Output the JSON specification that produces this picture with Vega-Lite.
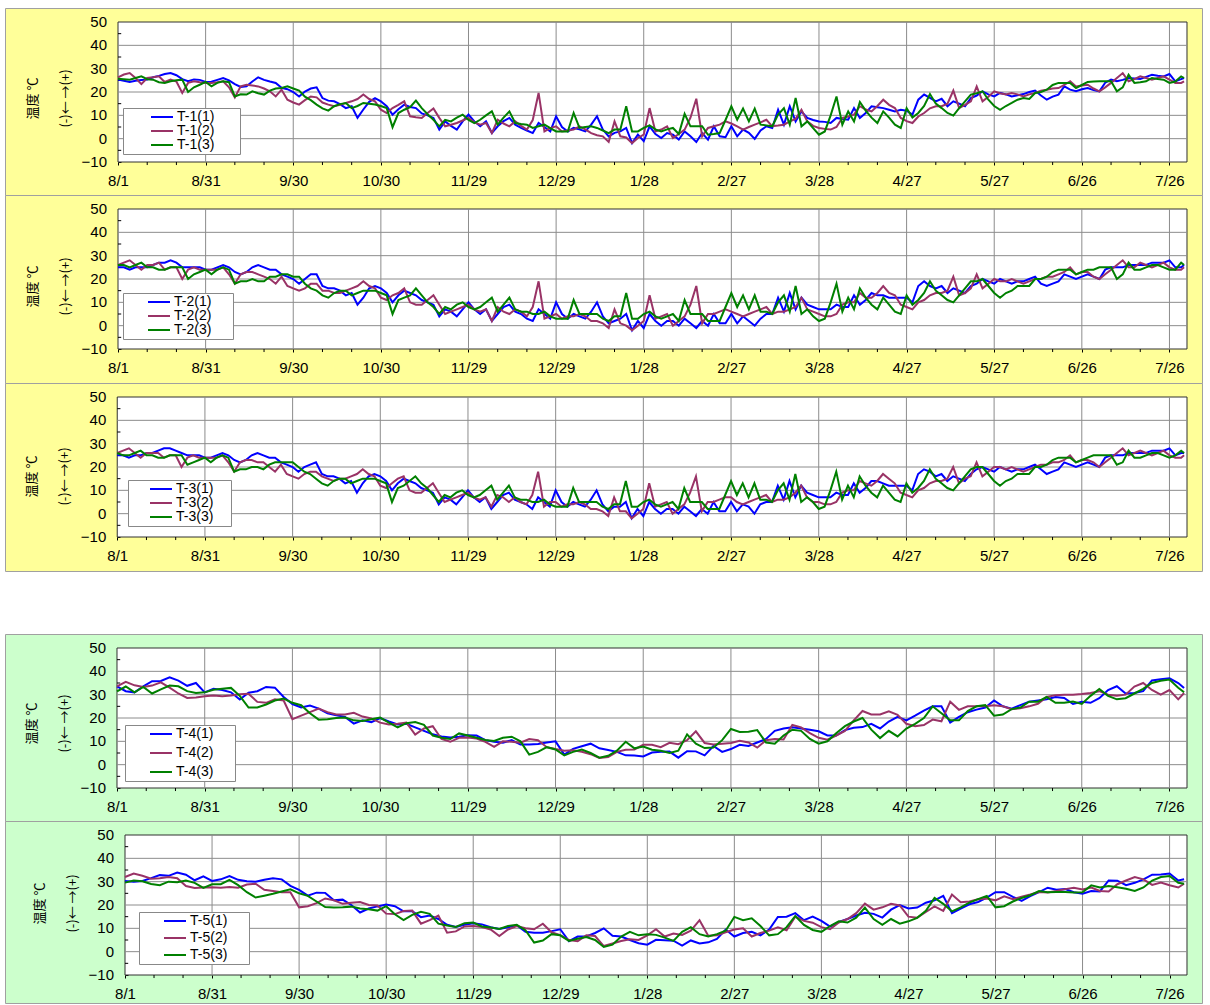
{
"$schema": "https://vega.github.io/schema/vega-lite/v6.json",
"background": "#ffffff",
"padding": {"left": 4, "top": 7, "right": 0, "bottom": 0},
"spacing": 61,
"config": {
 "view": {"stroke": "#a0a0a0"},
 "axis": {"labelFont": "Liberation Sans", "labelFontSize": 15, "labelColor": "#000", "domain": false, "grid": false, "tickColor": "#000", "ticks": true},
 "axisX": {"tickSize": 3, "labelPadding": 8, "labelFlush": false, "labelBound": false},
 "axisY": {"tickSize": -3, "labels": false, "titleFont": "Noto Sans CJK JP", "titleFontSize": 13, "titleFontWeight": "normal", "titleColor": "#000", "titleAngle": 270, "titleAlign": "center", "titleBaseline": "bottom", "titleLineHeight": 33, "titleX": -79},
 "text": {"font": "Liberation Sans", "fontSize": 15, "color": "#000000", "align": "right", "baseline": "middle", "dx": -11},
 "legend": {"orient": "none", "direction": "vertical", "symbolType": "M-2.2,0H2.2", "symbolSize": 100, "symbolStrokeWidth": 2, "symbolOffset": 30, "labelOffset": 8, "labelFont": "Liberation Sans", "labelFontSize": 14, "labelColor": "#000", "padding": 2, "fillColor": "#ffffff", "strokeColor": "#888888", "rowPadding": 0}
},
"datasets": {
 "vg": [{"g":30},{"g":60},{"g":90},{"g":120},{"g":150},{"g":180},{"g":210},{"g":240},{"g":270},{"g":300},{"g":330},{"g":360}],
 "hg": [{"h":0},{"h":10},{"h":20},{"h":30},{"h":40}],
 "yl": [{"q":-10},{"q":0},{"q":10},{"q":20},{"q":30},{"q":40},{"q":50}],
 "mx": [{"t":10},{"t":20},{"t":40},{"t":50},{"t":70},{"t":80},{"t":100},{"t":110},{"t":130},{"t":140},{"t":160},{"t":170},{"t":190},{"t":200},{"t":220},{"t":230},{"t":250},{"t":260},{"t":280},{"t":290},{"t":310},{"t":320},{"t":340},{"t":350}],
 "my": [{"m":-5},{"m":5},{"m":15},{"m":25},{"m":35},{"m":45}],
 "y": [
{"x":0,"a":25.3,"b":26.3,"c":25.7,"d":25,"e":26,"f":26,"g":25,"h":26,"i":26},
{"x":2,"a":24.8,"b":27.5,"c":25.5,"d":25,"e":27,"f":26,"g":25,"h":27,"i":25},
{"x":4,"a":24.3,"b":28.1,"c":25.3,"d":24,"e":28,"f":25,"g":24,"h":28,"i":25},
{"x":6,"a":24.8,"b":26,"c":26,"d":25,"e":26,"f":26,"g":25,"h":26,"i":26},
{"x":8,"a":25.1,"b":23.4,"c":26.7,"d":25,"e":24,"f":27,"g":25,"h":24,"i":27},
{"x":10,"a":25.3,"b":26,"c":25.5,"d":25,"e":26,"f":25,"g":26,"h":26,"i":25},
{"x":12,"a":26.3,"b":26.3,"c":25.3,"d":26,"e":26,"f":25,"g":26,"h":26,"i":25},
{"x":14,"a":26.9,"b":26.7,"c":24.2,"d":27,"e":27,"f":24,"g":27,"h":26,"i":24},
{"x":16,"a":27.7,"b":24.3,"c":23.9,"d":27,"e":24,"f":24,"g":28,"h":24,"i":24},
{"x":18,"a":28.1,"b":25.3,"c":24.6,"d":28,"e":25,"f":25,"g":28,"h":25,"i":25},
{"x":20,"a":27.2,"b":24.5,"c":25,"d":27,"e":25,"f":25,"g":27,"h":25,"i":25},
{"x":22,"a":25.5,"b":19.6,"c":25.3,"d":25,"e":20,"f":25,"g":26,"h":20,"i":25},
{"x":24,"a":24.6,"b":23.9,"c":20,"d":25,"e":24,"f":20,"g":25,"h":24,"i":21},
{"x":26,"a":25.4,"b":24.6,"c":22,"d":25,"e":25,"f":22,"g":25,"h":25,"i":22},
{"x":28,"a":25.2,"b":24.2,"c":23.1,"d":25,"e":24,"f":23,"g":25,"h":24,"i":23},
{"x":30,"a":24.3,"b":23.9,"c":24.3,"d":24,"e":24,"f":24,"g":24,"h":24,"i":24},
{"x":32,"a":24.4,"b":23.9,"c":22.4,"d":24,"e":24,"f":22,"g":24,"h":24,"i":22},
{"x":34,"a":25.2,"b":24.2,"c":23.9,"d":25,"e":24,"f":24,"g":25,"h":24,"i":24},
{"x":36,"a":26,"b":24.6,"c":24.6,"d":26,"e":25,"f":25,"g":26,"h":25,"i":25},
{"x":38,"a":25,"b":22,"c":24.2,"d":25,"e":22,"f":24,"g":25,"h":22,"i":24},
{"x":40,"a":23.4,"b":17.7,"c":18.1,"d":23,"e":18,"f":18,"g":23,"h":18,"i":18},
{"x":42,"a":22.2,"b":22.4,"c":19,"d":22,"e":22,"f":19,"g":22,"h":22,"i":19},
{"x":44,"a":22.5,"b":23.1,"c":18.9,"d":23,"e":23,"f":19,"g":23,"h":23,"i":19},
{"x":46,"a":24.5,"b":22.8,"c":20.3,"d":25,"e":23,"f":20,"g":25,"h":23,"i":20},
{"x":48,"a":26.3,"b":22.4,"c":19.5,"d":26,"e":22,"f":19,"g":26,"h":22,"i":20},
{"x":50,"a":25.2,"b":21.5,"c":18.9,"d":25,"e":21,"f":19,"g":25,"h":22,"i":19},
{"x":52,"a":24.5,"b":20.3,"c":20.6,"d":24,"e":20,"f":21,"g":24,"h":20,"i":21},
{"x":54,"a":23.9,"b":18.1,"c":21.5,"d":24,"e":18,"f":21,"g":24,"h":18,"i":22},
{"x":56,"a":21.8,"b":21,"c":21.7,"d":22,"e":21,"f":22,"g":22,"h":21,"i":22},
{"x":58,"a":21.2,"b":16.7,"c":22.4,"d":21,"e":17,"f":22,"g":21,"h":17,"i":22},
{"x":60,"a":20,"b":15.5,"c":21.5,"d":20,"e":16,"f":21,"g":20,"h":16,"i":22},
{"x":62,"a":18.1,"b":14.6,"c":20.6,"d":18,"e":15,"f":21,"g":18,"h":15,"i":20},
{"x":64,"a":20.2,"b":16.5,"c":18,"d":20,"e":16,"f":18,"g":20,"h":17,"i":18},
{"x":66,"a":21.5,"b":18.1,"c":16.5,"d":22,"e":18,"f":16,"g":21,"h":18,"i":17},
{"x":68,"a":22,"b":17.7,"c":14.6,"d":22,"e":18,"f":15,"g":22,"h":18,"i":15},
{"x":70,"a":17.4,"b":15.5,"c":13,"d":17,"e":15,"f":13,"g":17,"h":16,"i":13},
{"x":72,"a":16.3,"b":14.6,"c":12,"d":16,"e":15,"f":12,"g":16,"h":15,"i":12},
{"x":74,"a":16,"b":13.9,"c":13.9,"d":16,"e":14,"f":14,"g":16,"h":14,"i":14},
{"x":76,"a":14.8,"b":14.5,"c":14.8,"d":15,"e":14,"f":15,"g":15,"h":15,"i":15},
{"x":78,"a":13.1,"b":15.3,"c":15.3,"d":13,"e":15,"f":15,"g":13,"h":15,"i":15},
{"x":80,"a":13.9,"b":16,"c":13.1,"d":14,"e":16,"f":13,"g":14,"h":16,"i":13},
{"x":82,"a":8.9,"b":17,"c":14,"d":9,"e":17,"f":14,"g":9,"h":17,"i":14},
{"x":84,"a":12.5,"b":18.9,"c":15.3,"d":12,"e":19,"f":15,"g":13,"h":19,"i":15},
{"x":86,"a":15.8,"b":17,"c":15,"d":16,"e":17,"f":15,"g":16,"h":17,"i":15},
{"x":88,"a":17.4,"b":16,"c":14.6,"d":17,"e":16,"f":15,"g":17,"h":16,"i":15},
{"x":90,"a":16,"b":12.4,"c":14,"d":16,"e":12,"f":14,"g":16,"h":12,"i":14},
{"x":92,"a":13.9,"b":11,"c":13.1,"d":14,"e":11,"f":13,"g":14,"h":11,"i":13},
{"x":94,"a":10.3,"b":13.1,"c":4.9,"d":10,"e":13,"f":5,"g":10,"h":13,"i":5},
{"x":96,"a":12.6,"b":14.5,"c":11,"d":13,"e":14,"f":11,"g":13,"h":15,"i":11},
{"x":98,"a":14.6,"b":16,"c":12.4,"d":15,"e":16,"f":12,"g":15,"h":16,"i":12},
{"x":100,"a":13.6,"b":9.6,"c":13.5,"d":14,"e":10,"f":13,"g":14,"h":10,"i":14},
{"x":102,"a":13.1,"b":9.2,"c":16.3,"d":13,"e":9,"f":16,"g":13,"h":9,"i":16},
{"x":104,"a":10.8,"b":8.9,"c":13.1,"d":11,"e":9,"f":13,"g":11,"h":9,"i":13},
{"x":106,"a":10,"b":11,"c":10.5,"d":10,"e":11,"f":10,"g":10,"h":11,"i":11},
{"x":108,"a":8.9,"b":12.9,"c":8.1,"d":9,"e":13,"f":8,"g":9,"h":13,"i":8},
{"x":110,"a":3.9,"b":8.9,"c":5.3,"d":4,"e":9,"f":5,"g":4,"h":9,"i":5},
{"x":112,"a":7.4,"b":5.3,"c":8.1,"d":7,"e":5,"f":8,"g":7,"h":5,"i":8},
{"x":114,"a":5.5,"b":6,"c":7.4,"d":6,"e":6,"f":7,"g":6,"h":6,"i":7},
{"x":116,"a":3.9,"b":6.7,"c":9,"d":4,"e":7,"f":9,"g":4,"h":7,"i":9},
{"x":118,"a":7.4,"b":7.8,"c":10.3,"d":7,"e":8,"f":10,"g":7,"h":8,"i":10},
{"x":120,"a":10.3,"b":8.9,"c":8,"d":10,"e":9,"f":8,"g":10,"h":9,"i":8},
{"x":122,"a":7.4,"b":7,"c":6.7,"d":7,"e":7,"f":7,"g":7,"h":7,"i":7},
{"x":124,"a":5.3,"b":6,"c":8.1,"d":5,"e":6,"f":8,"g":5,"h":6,"i":8},
{"x":126,"a":7.4,"b":6.7,"c":10,"d":7,"e":7,"f":10,"g":7,"h":7,"i":10},
{"x":128,"a":2.4,"b":2.4,"c":11.7,"d":2,"e":2,"f":12,"g":2,"h":3,"i":12},
{"x":130,"a":5.3,"b":8.1,"c":6,"d":5,"e":8,"f":6,"g":5,"h":8,"i":6},
{"x":132,"a":7.5,"b":6.5,"c":9,"d":8,"e":6,"f":9,"g":8,"h":7,"i":9},
{"x":134,"a":8.9,"b":5.3,"c":11.7,"d":9,"e":5,"f":12,"g":9,"h":5,"i":12},
{"x":136,"a":6,"b":7.4,"c":6.7,"d":6,"e":7,"f":7,"g":6,"h":7,"i":7},
{"x":138,"a":4.6,"b":5.5,"c":6.3,"d":5,"e":6,"f":6,"g":5,"h":5,"i":6},
{"x":140,"a":3.5,"b":3.9,"c":6,"d":3,"e":4,"f":6,"g":4,"h":4,"i":6},
{"x":142,"a":2.4,"b":8,"c":4.6,"d":2,"e":8,"f":5,"g":2,"h":8,"i":5},
{"x":144,"a":6.7,"b":19.6,"c":5.3,"d":7,"e":19,"f":5,"g":7,"h":18,"i":5},
{"x":146,"a":5,"b":3.1,"c":6,"d":5,"e":3,"f":6,"g":5,"h":3,"i":6},
{"x":148,"a":3.1,"b":4.5,"c":4.5,"d":3,"e":4,"f":4,"g":3,"h":5,"i":4},
{"x":150,"a":9.6,"b":5.3,"c":3.1,"d":10,"e":5,"f":3,"g":10,"h":5,"i":3},
{"x":152,"a":5,"b":3.1,"c":3.1,"d":5,"e":3,"f":3,"g":5,"h":3,"i":3},
{"x":154,"a":3.1,"b":3.5,"c":3.1,"d":3,"e":4,"f":3,"g":3,"h":4,"i":3},
{"x":156,"a":4.6,"b":3.9,"c":11,"d":5,"e":4,"f":11,"g":5,"h":4,"i":11},
{"x":158,"a":4,"b":5.3,"c":4.6,"d":4,"e":5,"f":5,"g":4,"h":5,"i":5},
{"x":160,"a":3.1,"b":4,"c":5,"d":3,"e":4,"f":5,"g":3,"h":4,"i":5},
{"x":162,"a":6,"b":2.4,"c":5.3,"d":6,"e":2,"f":5,"g":6,"h":2,"i":5},
{"x":164,"a":9.6,"b":1.5,"c":4.6,"d":10,"e":2,"f":5,"g":10,"h":2,"i":5},
{"x":166,"a":3.9,"b":1,"c":3.5,"d":4,"e":1,"f":3,"g":4,"h":1,"i":3},
{"x":168,"a":1,"b":-1.4,"c":2.4,"d":1,"e":-1,"f":2,"g":1,"h":-1,"i":2},
{"x":170,"a":2.5,"b":7.4,"c":3.9,"d":2,"e":7,"f":4,"g":3,"h":7,"i":4},
{"x":172,"a":3.1,"b":1,"c":3.9,"d":3,"e":1,"f":4,"g":3,"h":1,"i":4},
{"x":174,"a":4.6,"b":0.5,"c":13.9,"d":5,"e":0,"f":14,"g":5,"h":1,"i":14},
{"x":176,"a":-1.9,"b":-1.9,"c":3.1,"d":-2,"e":-2,"f":3,"g":-2,"h":-2,"i":3},
{"x":178,"a":1.7,"b":0.3,"c":3.1,"d":2,"e":0,"f":3,"g":2,"h":0,"i":3},
{"x":180,"a":-1.1,"b":1.7,"c":4.6,"d":-1,"e":2,"f":5,"g":-1,"h":2,"i":5},
{"x":182,"a":5.3,"b":13.1,"c":5.7,"d":5,"e":13,"f":6,"g":5,"h":13,"i":6},
{"x":184,"a":2,"b":3.1,"c":4,"d":2,"e":3,"f":4,"g":2,"h":3,"i":4},
{"x":186,"a":0.3,"b":3.9,"c":3.1,"d":0,"e":4,"f":3,"g":0,"h":4,"i":3},
{"x":188,"a":2.4,"b":5.3,"c":4,"d":2,"e":5,"f":4,"g":2,"h":5,"i":4},
{"x":190,"a":1.7,"b":0.3,"c":4.6,"d":2,"e":0,"f":5,"g":2,"h":0,"i":5},
{"x":192,"a":-0.4,"b":2,"c":2,"d":0,"e":2,"f":2,"g":0,"h":2,"i":2},
{"x":194,"a":3.1,"b":3.9,"c":10.6,"d":3,"e":4,"f":11,"g":3,"h":4,"i":11},
{"x":196,"a":1,"b":9,"c":5.3,"d":1,"e":9,"f":5,"g":1,"h":9,"i":5},
{"x":198,"a":-1.4,"b":17.1,"c":5.3,"d":-1,"e":17,"f":5,"g":-1,"h":16,"i":5},
{"x":200,"a":2.4,"b":1,"c":5.3,"d":2,"e":1,"f":5,"g":2,"h":1,"i":5},
{"x":202,"a":-0.4,"b":4.6,"c":1.7,"d":0,"e":5,"f":2,"g":0,"h":5,"i":2},
{"x":204,"a":5.3,"b":5.3,"c":2,"d":5,"e":5,"f":2,"g":5,"h":5,"i":2},
{"x":206,"a":1,"b":6,"c":2.4,"d":1,"e":6,"f":2,"g":1,"h":6,"i":2},
{"x":208,"a":0.6,"b":7.4,"c":8,"d":1,"e":7,"f":8,"g":1,"h":7,"i":8},
{"x":210,"a":5.3,"b":6.5,"c":13.9,"d":5,"e":6,"f":14,"g":5,"h":7,"i":14},
{"x":212,"a":1,"b":5.3,"c":8.1,"d":1,"e":5,"f":8,"g":1,"h":5,"i":8},
{"x":214,"a":3.9,"b":3.9,"c":12.9,"d":4,"e":4,"f":13,"g":4,"h":4,"i":13},
{"x":216,"a":2.5,"b":5,"c":7.4,"d":2,"e":5,"f":7,"g":3,"h":5,"i":7},
{"x":218,"a":-0.1,"b":6,"c":12.9,"d":0,"e":6,"f":13,"g":0,"h":6,"i":13},
{"x":220,"a":3.5,"b":7,"c":6,"d":3,"e":7,"f":6,"g":4,"h":7,"i":6},
{"x":222,"a":5.3,"b":8.1,"c":5.7,"d":5,"e":8,"f":6,"g":5,"h":8,"i":6},
{"x":224,"a":4.6,"b":5.3,"c":5.3,"d":5,"e":5,"f":5,"g":5,"h":5,"i":5},
{"x":226,"a":12.4,"b":5.6,"c":10.3,"d":12,"e":6,"f":10,"g":12,"h":6,"i":10},
{"x":228,"a":6,"b":6,"c":13.1,"d":6,"e":6,"f":13,"g":6,"h":6,"i":13},
{"x":230,"a":13.9,"b":7.4,"c":6,"d":14,"e":7,"f":6,"g":14,"h":7,"i":6},
{"x":232,"a":7.4,"b":8.5,"c":17.4,"d":7,"e":8,"f":17,"g":7,"h":9,"i":17},
{"x":234,"a":11.7,"b":12.4,"c":5.3,"d":12,"e":12,"f":5,"g":12,"h":12,"i":5},
{"x":236,"a":8.9,"b":7.4,"c":7.4,"d":9,"e":7,"f":7,"g":9,"h":7,"i":7},
{"x":238,"a":8,"b":5.5,"c":4.5,"d":8,"e":6,"f":4,"g":8,"h":5,"i":5},
{"x":240,"a":7.4,"b":4.6,"c":1.7,"d":7,"e":5,"f":2,"g":7,"h":5,"i":2},
{"x":242,"a":7.2,"b":4.2,"c":3.1,"d":7,"e":4,"f":3,"g":7,"h":4,"i":3},
{"x":244,"a":6.7,"b":3.9,"c":10,"d":7,"e":4,"f":10,"g":7,"h":4,"i":10},
{"x":246,"a":8.9,"b":5,"c":18.1,"d":9,"e":5,"f":18,"g":9,"h":5,"i":18},
{"x":248,"a":8.4,"b":8.9,"c":6,"d":8,"e":9,"f":6,"g":8,"h":9,"i":6},
{"x":250,"a":8.1,"b":9.5,"c":11.7,"d":8,"e":10,"f":12,"g":8,"h":10,"i":12},
{"x":252,"a":13.1,"b":10.3,"c":7.4,"d":13,"e":10,"f":7,"g":13,"h":10,"i":7},
{"x":254,"a":8.9,"b":13.9,"c":15.7,"d":9,"e":14,"f":16,"g":9,"h":14,"i":16},
{"x":256,"a":11,"b":12.5,"c":12,"d":11,"e":12,"f":12,"g":11,"h":13,"i":12},
{"x":258,"a":13.9,"b":11.7,"c":9,"d":14,"e":12,"f":9,"g":14,"h":12,"i":9},
{"x":260,"a":13.5,"b":14,"c":6.7,"d":13,"e":14,"f":7,"g":14,"h":14,"i":7},
{"x":262,"a":13.1,"b":16.7,"c":11.7,"d":13,"e":17,"f":12,"g":13,"h":17,"i":12},
{"x":264,"a":12.4,"b":14.5,"c":9,"d":12,"e":14,"f":9,"g":12,"h":15,"i":9},
{"x":266,"a":11.7,"b":13.1,"c":6,"d":12,"e":13,"f":6,"g":12,"h":13,"i":6},
{"x":268,"a":12.4,"b":8.9,"c":4.6,"d":12,"e":9,"f":5,"g":12,"h":9,"i":5},
{"x":270,"a":12,"b":7.5,"c":13.1,"d":12,"e":8,"f":13,"g":12,"h":8,"i":13},
{"x":272,"a":10.3,"b":6.7,"c":9.1,"d":10,"e":7,"f":9,"g":10,"h":7,"i":9},
{"x":274,"a":16.7,"b":9.5,"c":11,"d":17,"e":10,"f":11,"g":17,"h":10,"i":11},
{"x":276,"a":18.9,"b":11,"c":14,"d":19,"e":11,"f":14,"g":19,"h":11,"i":14},
{"x":278,"a":17.5,"b":13,"c":19.1,"d":17,"e":13,"f":19,"g":18,"h":13,"i":19},
{"x":280,"a":16,"b":13.9,"c":15,"d":16,"e":14,"f":15,"g":16,"h":14,"i":15},
{"x":282,"a":17.1,"b":13.9,"c":13.1,"d":17,"e":14,"f":13,"g":17,"h":14,"i":13},
{"x":284,"a":13.9,"b":15,"c":11,"d":14,"e":15,"f":11,"g":14,"h":15,"i":11},
{"x":286,"a":16,"b":20.6,"c":9.9,"d":16,"e":21,"f":10,"g":16,"h":20,"i":10},
{"x":288,"a":15,"b":13.1,"c":13.1,"d":15,"e":13,"f":13,"g":15,"h":13,"i":13},
{"x":290,"a":13.9,"b":14.5,"c":16,"d":14,"e":14,"f":16,"g":14,"h":15,"i":16},
{"x":292,"a":17.4,"b":16,"c":18.9,"d":17,"e":16,"f":19,"g":17,"h":16,"i":19},
{"x":294,"a":18.5,"b":22.4,"c":19.5,"d":18,"e":22,"f":19,"g":19,"h":22,"i":20},
{"x":296,"a":20.3,"b":16,"c":20.3,"d":20,"e":16,"f":20,"g":20,"h":16,"i":20},
{"x":298,"a":19,"b":18,"c":16.7,"d":19,"e":18,"f":17,"g":19,"h":18,"i":17},
{"x":300,"a":18.1,"b":20.3,"c":14,"d":18,"e":20,"f":14,"g":18,"h":20,"i":14},
{"x":302,"a":19.6,"b":19.5,"c":12.4,"d":20,"e":19,"f":12,"g":20,"h":20,"i":12},
{"x":304,"a":19,"b":18.9,"c":14,"d":19,"e":19,"f":14,"g":19,"h":19,"i":14},
{"x":306,"a":18.1,"b":19.6,"c":15.3,"d":18,"e":20,"f":15,"g":18,"h":20,"i":15},
{"x":308,"a":18.6,"b":19,"c":16.7,"d":19,"e":19,"f":17,"g":19,"h":19,"i":17},
{"x":310,"a":19.1,"b":18.1,"c":17.4,"d":19,"e":18,"f":17,"g":19,"h":18,"i":17},
{"x":312,"a":20,"b":19,"c":17,"d":20,"e":19,"f":17,"g":20,"h":19,"i":17},
{"x":314,"a":20.6,"b":19.6,"c":19.6,"d":21,"e":20,"f":20,"g":21,"h":20,"i":20},
{"x":316,"a":18.5,"b":20.5,"c":20,"d":18,"e":20,"f":20,"g":19,"h":21,"i":20},
{"x":318,"a":16.7,"b":21,"c":21,"d":17,"e":21,"f":21,"g":17,"h":21,"i":21},
{"x":320,"a":18,"b":21.5,"c":23,"d":18,"e":21,"f":23,"g":18,"h":22,"i":23},
{"x":322,"a":18.9,"b":21.7,"c":23.9,"d":19,"e":22,"f":24,"g":19,"h":22,"i":24},
{"x":324,"a":22.4,"b":23,"c":23.9,"d":22,"e":23,"f":24,"g":22,"h":23,"i":24},
{"x":326,"a":21,"b":24.6,"c":23.9,"d":21,"e":25,"f":24,"g":21,"h":25,"i":24},
{"x":328,"a":20.3,"b":22.4,"c":21.7,"d":20,"e":22,"f":22,"g":20,"h":22,"i":22},
{"x":330,"a":21.2,"b":22.8,"c":23,"d":21,"e":23,"f":23,"g":21,"h":23,"i":23},
{"x":332,"a":21.7,"b":23.1,"c":24.3,"d":22,"e":23,"f":24,"g":22,"h":23,"i":24},
{"x":334,"a":20.8,"b":21.5,"c":24.5,"d":21,"e":21,"f":24,"g":21,"h":22,"i":25},
{"x":336,"a":20.3,"b":20.3,"c":24.6,"d":20,"e":20,"f":25,"g":20,"h":20,"i":25},
{"x":338,"a":24,"b":22,"c":24.6,"d":24,"e":22,"f":25,"g":24,"h":22,"i":25},
{"x":340,"a":25.3,"b":23.9,"c":24.6,"d":25,"e":24,"f":25,"g":25,"h":24,"i":25},
{"x":342,"a":24.6,"b":26,"c":20.3,"d":25,"e":26,"f":20,"g":25,"h":26,"i":21},
{"x":344,"a":25.2,"b":28.1,"c":22,"d":25,"e":28,"f":22,"g":25,"h":28,"i":22},
{"x":346,"a":26,"b":24.6,"c":27.4,"d":26,"e":25,"f":27,"g":26,"h":25,"i":27},
{"x":348,"a":25.8,"b":25.5,"c":23.9,"d":26,"e":25,"f":24,"g":26,"h":26,"i":24},
{"x":350,"a":25.6,"b":26.7,"c":24.2,"d":26,"e":27,"f":24,"g":26,"h":27,"i":24},
{"x":352,"a":26.5,"b":26,"c":24.6,"d":26,"e":26,"f":25,"g":26,"h":26,"i":25},
{"x":354,"a":27.4,"b":25.3,"c":26,"d":27,"e":25,"f":26,"g":27,"h":25,"i":26},
{"x":356,"a":27,"b":26,"c":25.6,"d":27,"e":26,"f":26,"g":27,"h":26,"i":26},
{"x":358,"a":26.7,"b":26.7,"c":25.3,"d":27,"e":27,"f":25,"g":27,"h":27,"i":25},
{"x":360,"a":27.7,"b":25.3,"c":23.9,"d":28,"e":25,"f":24,"g":28,"h":25,"i":24},
{"x":362,"a":24.6,"b":23.9,"c":24.5,"d":25,"e":24,"f":24,"g":25,"h":24,"i":25},
{"x":364,"a":25.5,"b":23.9,"c":26.7,"d":25,"e":24,"f":27,"g":26,"h":24,"i":27},
{"x":365,"a":26,"b":24.6,"c":26,"d":26,"e":25,"f":26,"g":26,"h":25,"i":26}
 ],
 "g": [
{"x":0,"j":33.6,"k":33.6,"l":31.4,"m":30.3,"n":32,"o":29.6},
{"x":3,"j":31.5,"k":35.5,"l":33.5,"m":30,"n":33.5,"o":30.5},
{"x":6,"j":31,"k":34,"l":31,"m":30.3,"n":32.5,"o":30.2},
{"x":9,"j":33.6,"k":33.3,"l":33.3,"m":31.5,"n":31.3,"o":29},
{"x":12,"j":35.8,"k":33.9,"l":30.5,"m":32.8,"n":31.5,"o":28.5},
{"x":15,"j":35.9,"k":35.3,"l":32.3,"m":32.5,"n":32,"o":30},
{"x":18,"j":37.4,"k":33,"l":33.9,"m":33.9,"n":31.5,"o":29.8},
{"x":21,"j":36,"k":30.5,"l":33.6,"m":33,"n":28.1,"o":30.5},
{"x":24,"j":33.8,"k":28.6,"l":31.5,"m":30.6,"n":27.3,"o":29.5},
{"x":27,"j":35,"k":28.8,"l":30.7,"m":32.3,"n":27.5,"o":27.3},
{"x":30,"j":31,"k":29.3,"l":31,"m":30.3,"n":27.6,"o":28.9},
{"x":33,"j":32.5,"k":29.6,"l":32.1,"m":31,"n":27.4,"o":28.9},
{"x":36,"j":32,"k":29.3,"l":32.5,"m":32.4,"n":27.7,"o":30.8},
{"x":39,"j":31,"k":29.6,"l":32.9,"m":30.8,"n":27.4,"o":28.5},
{"x":42,"j":27.9,"k":30.2,"l":29.5,"m":30.2,"n":28.8,"o":25.5},
{"x":45,"j":30.8,"k":30.4,"l":24.5,"m":30,"n":29.1,"o":23.2},
{"x":48,"j":31.5,"k":26.9,"l":24.5,"m":30.8,"n":26.5,"o":24},
{"x":51,"j":33.3,"k":26.5,"l":25.8,"m":31.5,"n":26,"o":24.8},
{"x":54,"j":33,"k":28,"l":27.5,"m":31,"n":25.5,"o":25.8},
{"x":57,"j":29,"k":27.5,"l":28.3,"m":28.2,"n":25.5,"o":26.7},
{"x":60,"j":26,"k":19.5,"l":26.5,"m":26.5,"n":19,"o":25},
{"x":63,"j":24.5,"k":21,"l":25.5,"m":24,"n":19.5,"o":23.9},
{"x":66,"j":25.3,"k":22.5,"l":22,"m":25.3,"n":20.8,"o":21.5},
{"x":69,"j":24,"k":24,"l":19.3,"m":25.2,"n":22.8,"o":19.1},
{"x":72,"j":22,"k":22.5,"l":19.5,"m":22,"n":22,"o":18.9},
{"x":75,"j":21.2,"k":21.5,"l":20,"m":22.3,"n":20.5,"o":19},
{"x":78,"j":20.5,"k":21.5,"l":20.2,"m":20,"n":21,"o":19.3},
{"x":81,"j":17.6,"k":22.2,"l":19,"m":16.8,"n":21.3,"o":18.5},
{"x":84,"j":19,"k":20.6,"l":18.7,"m":18.5,"n":20,"o":18.2},
{"x":87,"j":18.2,"k":19.8,"l":19.5,"m":19.4,"n":19.8,"o":17.6},
{"x":90,"j":20,"k":18,"l":20.2,"m":20.2,"n":16.3,"o":19.5},
{"x":93,"j":18.5,"k":17.2,"l":18,"m":19.5,"n":16.1,"o":16},
{"x":96,"j":17.2,"k":17.5,"l":16,"m":17.3,"n":17.4,"o":13.5},
{"x":99,"j":17.5,"k":18,"l":17.8,"m":17.3,"n":17.6,"o":15.8},
{"x":102,"j":16,"k":12.9,"l":18.3,"m":14.8,"n":12,"o":17.1},
{"x":105,"j":14.5,"k":15.5,"l":17.1,"m":15.5,"n":13.5,"o":16.2},
{"x":108,"j":13,"k":16.5,"l":12.5,"m":14,"n":15.5,"o":12},
{"x":111,"j":12.1,"k":11,"l":11.5,"m":11.5,"n":8.1,"o":11.2},
{"x":114,"j":11.6,"k":9.8,"l":11,"m":10.6,"n":8.7,"o":10.6},
{"x":117,"j":12,"k":11.5,"l":13.4,"m":11.5,"n":10.8,"o":12.2},
{"x":120,"j":12.6,"k":11.6,"l":12.5,"m":12.2,"n":11,"o":12.5},
{"x":123,"j":12.5,"k":11.2,"l":11.5,"m":11.7,"n":10.6,"o":10.8},
{"x":126,"j":10.5,"k":9.8,"l":10.6,"m":10.5,"n":9.5,"o":10.4},
{"x":129,"j":9.8,"k":7.6,"l":10.2,"m":9.7,"n":6.7,"o":9.7},
{"x":132,"j":9.4,"k":10,"l":11.5,"m":10.5,"n":9.5,"o":11},
{"x":135,"j":10.5,"k":9.8,"l":12,"m":11.3,"n":11,"o":11.5},
{"x":138,"j":8.6,"k":9.4,"l":10,"m":8.5,"n":10,"o":9.2},
{"x":141,"j":8.6,"k":11,"l":4.3,"m":8.1,"n":9.6,"o":3.9},
{"x":144,"j":8.9,"k":10.5,"l":5.5,"m":8.1,"n":12,"o":4.8},
{"x":147,"j":9.5,"k":7.5,"l":7.5,"m":8.8,"n":8.3,"o":7.5},
{"x":150,"j":10,"k":6.7,"l":6.5,"m":9.6,"n":7.1,"o":7},
{"x":153,"j":4.3,"k":6,"l":4,"m":4.5,"n":5,"o":4.6},
{"x":156,"j":6.8,"k":6.2,"l":5.5,"m":6.5,"n":4.5,"o":5.5},
{"x":159,"j":7.9,"k":5.5,"l":6.5,"m":6.5,"n":7,"o":6.3},
{"x":162,"j":9,"k":4.5,"l":5,"m":8,"n":6.7,"o":5},
{"x":165,"j":7,"k":2.9,"l":3,"m":10,"n":2.4,"o":2},
{"x":168,"j":6.3,"k":3.3,"l":3.8,"m":6.8,"n":3.5,"o":3},
{"x":171,"j":5.5,"k":5.5,"l":6,"m":6.5,"n":4.6,"o":6.5},
{"x":174,"j":4,"k":6.4,"l":9.8,"m":5,"n":5.3,"o":8.5},
{"x":177,"j":3.9,"k":6.5,"l":7,"m":3.6,"n":5,"o":7},
{"x":180,"j":3.5,"k":8.5,"l":7.8,"m":3,"n":7,"o":7.5},
{"x":183,"j":5.2,"k":8.5,"l":6.4,"m":5.1,"n":9.6,"o":7.2},
{"x":186,"j":5.5,"k":7.5,"l":6,"m":4.9,"n":6.5,"o":6},
{"x":189,"j":5.6,"k":9.4,"l":5,"m":4.7,"n":7.8,"o":4.6},
{"x":192,"j":3,"k":8.8,"l":6,"m":2.6,"n":7.2,"o":8.5},
{"x":195,"j":5.8,"k":10.5,"l":13,"m":4.8,"n":9,"o":10.5},
{"x":198,"j":5.7,"k":14.3,"l":9,"m":3.5,"n":13.5,"o":7.5},
{"x":201,"j":4,"k":9.3,"l":7.1,"m":4,"n":6.8,"o":6.5},
{"x":204,"j":8,"k":8.6,"l":7.4,"m":5.5,"n":7,"o":7.5},
{"x":207,"j":5.5,"k":9,"l":10.5,"m":9.5,"n":8.3,"o":9},
{"x":210,"j":6.7,"k":9.3,"l":15.3,"m":6.5,"n":9.5,"o":14.9},
{"x":213,"j":8.5,"k":10.2,"l":14,"m":8,"n":10,"o":13.5},
{"x":216,"j":8,"k":9.5,"l":14.1,"m":8.5,"n":6.5,"o":14.3},
{"x":219,"j":9.5,"k":7.3,"l":14.8,"m":7,"n":8,"o":11},
{"x":222,"j":11,"k":10.5,"l":9.5,"m":9.5,"n":9,"o":7},
{"x":225,"j":14.5,"k":11,"l":9,"m":14.9,"n":10.4,"o":7.5},
{"x":228,"j":15.5,"k":10.8,"l":12.5,"m":15,"n":9.2,"o":10.5},
{"x":231,"j":16,"k":17,"l":15,"m":16.5,"n":15,"o":15.3},
{"x":234,"j":15.5,"k":16,"l":14.5,"m":13.5,"n":13.2,"o":11.5},
{"x":237,"j":15,"k":13.5,"l":11,"m":15,"n":12.4,"o":9.3},
{"x":240,"j":14.3,"k":11.5,"l":9,"m":13.2,"n":10.5,"o":8.5},
{"x":243,"j":12.5,"k":10.7,"l":10,"m":10.8,"n":9.6,"o":11},
{"x":246,"j":12.5,"k":12.5,"l":13.5,"m":12.8,"n":12.5,"o":13},
{"x":249,"j":14.8,"k":14.5,"l":16.5,"m":14,"n":14,"o":12.5},
{"x":252,"j":15.8,"k":19,"l":18.5,"m":15.5,"n":16.5,"o":14.6},
{"x":255,"j":16.1,"k":23,"l":20,"m":16.7,"n":20.6,"o":18.9},
{"x":258,"j":17.5,"k":21.5,"l":15,"m":16.2,"n":18,"o":14},
{"x":261,"j":15.5,"k":21.5,"l":11.4,"m":14.6,"n":19,"o":11.5},
{"x":264,"j":18.5,"k":22.9,"l":14.5,"m":18,"n":20.5,"o":14},
{"x":267,"j":20.5,"k":21.4,"l":12.1,"m":20,"n":19.8,"o":12},
{"x":270,"j":19,"k":17.5,"l":15.5,"m":18.5,"n":15,"o":13},
{"x":273,"j":21,"k":16.5,"l":17.5,"m":18.9,"n":14.5,"o":14.5},
{"x":276,"j":23.2,"k":17,"l":20,"m":21,"n":17,"o":17.5},
{"x":279,"j":25,"k":19.3,"l":25,"m":22,"n":19.4,"o":23},
{"x":282,"j":25,"k":18.6,"l":22,"m":23.9,"n":17.5,"o":20.5},
{"x":285,"j":18,"k":27,"l":19,"m":16.5,"n":24.5,"o":17.3},
{"x":288,"j":20.5,"k":23.5,"l":19,"m":18.5,"n":21.2,"o":19},
{"x":291,"j":22.5,"k":25,"l":23,"m":20.3,"n":21.5,"o":21},
{"x":294,"j":23.6,"k":25,"l":25,"m":21.3,"n":22.5,"o":22.5},
{"x":297,"j":24.5,"k":25,"l":25.5,"m":23.2,"n":22.8,"o":23.9},
{"x":300,"j":27.5,"k":25.5,"l":21,"m":25.5,"n":22,"o":19},
{"x":303,"j":25,"k":25,"l":21.5,"m":25.5,"n":23.7,"o":19.5},
{"x":306,"j":24,"k":23.8,"l":23.8,"m":23.5,"n":22.5,"o":21.5},
{"x":309,"j":25.5,"k":24.2,"l":24.5,"m":21.8,"n":23.5,"o":23},
{"x":312,"j":27,"k":25,"l":27,"m":23.8,"n":24.5,"o":24.2},
{"x":315,"j":27.5,"k":26.1,"l":27,"m":25.5,"n":25.6,"o":26},
{"x":318,"j":28,"k":29,"l":29,"m":27.4,"n":25.4,"o":25.5},
{"x":321,"j":29,"k":29.8,"l":26.5,"m":26.5,"n":26,"o":25.6},
{"x":324,"j":28.6,"k":30,"l":26.5,"m":26.8,"n":26.8,"o":25.6},
{"x":327,"j":26,"k":30,"l":27.1,"m":25.5,"n":27.4,"o":25.4},
{"x":330,"j":27,"k":30.3,"l":26,"m":24.8,"n":26.7,"o":25.5},
{"x":333,"j":26.5,"k":30.7,"l":29.5,"m":26,"n":27.5,"o":28.4},
{"x":336,"j":28.5,"k":31.5,"l":32.4,"m":25.8,"n":26,"o":27.5},
{"x":339,"j":32,"k":30,"l":29.5,"m":30.5,"n":25.8,"o":28.1},
{"x":342,"j":33.6,"k":29.5,"l":28,"m":30.4,"n":28.9,"o":27.6},
{"x":345,"j":30.5,"k":30,"l":28.5,"m":28.5,"n":30.5,"o":27},
{"x":348,"j":30.7,"k":33.5,"l":30.5,"m":29.5,"n":32,"o":26},
{"x":351,"j":31.5,"k":35,"l":32.5,"m":31,"n":31,"o":27.5},
{"x":354,"j":36.1,"k":32,"l":35,"m":33,"n":28.6,"o":30.5},
{"x":357,"j":36.6,"k":30,"l":36,"m":33.1,"n":29.6,"o":32},
{"x":360,"j":37,"k":32,"l":36.5,"m":33.5,"n":28.5,"o":32.4},
{"x":363,"j":35,"k":28,"l":33,"m":30.5,"n":27.5,"o":29.5},
{"x":365,"j":32.9,"k":30.7,"l":31,"m":31,"n":29.1,"o":29.1}
 ]
},
"resolve": {"scale": {"color": "independent"}, "legend": {"color": "independent"}},
"vconcat": [
 {"spacing": 0, "bounds": "flush",
  "resolve": {"scale": {"color": "independent"}, "legend": {"color": "independent"}},
  "vconcat": [
  {"width": 1197, "height": 187, "view": {"fill": "#ffff99", "stroke": "#a0a0a0"},
   "layer": [
    {"data": {"values": [{}]}, "mark": {"type": "rect", "fill": "#ffffff", "stroke": "#303030", "strokeWidth": 1},
     "encoding": {"x": {"datum": 0, "type": "quantitative", "scale": {"domain": [-38.69, 371.14], "nice": false, "zero": false}}, "x2": {"datum": 366},
      "y": {"datum": -10, "type": "quantitative", "scale": {"domain": [-24.14, 56], "nice": false, "zero": false}}, "y2": {"datum": 50}}},
    {"data": {"name": "vg"}, "mark": {"type": "rule", "color": "#8c8c8c", "strokeWidth": 1},
     "encoding": {"x": {"field": "g", "type": "quantitative", "scale": {"domain": [-38.69, 371.14], "nice": false, "zero": false}},
      "y": {"datum": -10, "type": "quantitative", "scale": {"domain": [-24.14, 56], "nice": false, "zero": false}}, "y2": {"datum": 50}}},
    {"data": {"name": "hg"}, "mark": {"type": "rule", "color": "#8c8c8c", "strokeWidth": 1},
     "encoding": {"y": {"field": "h", "type": "quantitative", "scale": {"domain": [-24.14, 56], "nice": false, "zero": false}},
      "x": {"datum": 0, "type": "quantitative", "scale": {"domain": [-38.69, 371.14], "nice": false, "zero": false}}, "x2": {"datum": 366}}},
    {"data": {"name": "mx"}, "mark": {"type": "rule", "color": "#000000", "strokeWidth": 1},
     "encoding": {"x": {"field": "t", "type": "quantitative", "scale": {"domain": [-38.69, 371.14], "nice": false, "zero": false}},
      "y": {"datum": -10, "type": "quantitative", "scale": {"domain": [-24.14, 56], "nice": false, "zero": false}}, "y2": {"datum": -11.3}}},
    {"data": {"name": "my"}, "mark": {"type": "rule", "color": "#000000", "strokeWidth": 1},
     "encoding": {"y": {"field": "m", "type": "quantitative", "scale": {"domain": [-24.14, 56], "nice": false, "zero": false}},
      "x": {"datum": 0, "type": "quantitative", "scale": {"domain": [-38.69, 371.14], "nice": false, "zero": false}}, "x2": {"datum": 1.1}}},
    {"data": {"name": "yl"}, "mark": {"type": "text"},
     "encoding": {"y": {"field": "q", "type": "quantitative", "scale": {"domain": [-24.14, 56], "nice": false, "zero": false}},
      "x": {"datum": 0, "type": "quantitative", "scale": {"domain": [-38.69, 371.14], "nice": false, "zero": false}}, "text": {"field": "q", "type": "quantitative"}}},
    {"data": {"name": "y"}, "transform": [{"fold": ["a", "b", "c"], "as": ["s", "v"]}], "mark": {"type": "line", "strokeWidth": 2},
     "encoding": {
      "x": {"field": "x", "type": "quantitative", "scale": {"domain": [-38.69, 371.14], "nice": false, "zero": false},
       "axis": {"title": null, "offset": -33, "labelOverlap": false, "values": [0,30,60,90,120,150,180,210,240,270,300,330,360], "labelExpr": "timeFormat(datetime(2019, 7, 1 + datum.value), '%-m/%-d')"}},
      "y": {"field": "v", "type": "quantitative", "scale": {"domain": [-24.14, 56], "nice": false, "zero": false},
       "axis": {"title": ["温度 ℃", "(-)←  →(+)"], "titleY": 90, "offset": -113, "labels": false, "values": [-10,0,10,20,30,40,50]}},
      "color": {"field": "s", "type": "nominal", "scale": {"domain": ["a", "b", "c"], "range": ["#0000ff", "#993366", "#008000"]},
       "legend": {"title": null, "legendX": 118, "legendY": 100, "labelExpr": "(datum.label == 'a' ? 'T-1(1)' : datum.label == 'b' ? 'T-1(2)' : 'T-1(3)') + '\u00a0\u00a0\u00a0\u00a0\u00a0\u00a0\u200b'"}}}}
   ]},
  {"width": 1197, "height": 188, "view": {"fill": "#ffff99", "stroke": "#a0a0a0"},
   "layer": [
    {"data": {"values": [{}]}, "mark": {"type": "rect", "fill": "#ffffff", "stroke": "#303030", "strokeWidth": 1},
     "encoding": {"x": {"datum": 0, "type": "quantitative", "scale": {"domain": [-38.69, 371.14], "nice": false, "zero": false}}, "x2": {"datum": 366},
      "y": {"datum": -10, "type": "quantitative", "scale": {"domain": [-24.57, 56], "nice": false, "zero": false}}, "y2": {"datum": 50}}},
    {"data": {"name": "vg"}, "mark": {"type": "rule", "color": "#8c8c8c", "strokeWidth": 1},
     "encoding": {"x": {"field": "g", "type": "quantitative", "scale": {"domain": [-38.69, 371.14], "nice": false, "zero": false}},
      "y": {"datum": -10, "type": "quantitative", "scale": {"domain": [-24.57, 56], "nice": false, "zero": false}}, "y2": {"datum": 50}}},
    {"data": {"name": "hg"}, "mark": {"type": "rule", "color": "#8c8c8c", "strokeWidth": 1},
     "encoding": {"y": {"field": "h", "type": "quantitative", "scale": {"domain": [-24.57, 56], "nice": false, "zero": false}},
      "x": {"datum": 0, "type": "quantitative", "scale": {"domain": [-38.69, 371.14], "nice": false, "zero": false}}, "x2": {"datum": 366}}},
    {"data": {"name": "mx"}, "mark": {"type": "rule", "color": "#000000", "strokeWidth": 1},
     "encoding": {"x": {"field": "t", "type": "quantitative", "scale": {"domain": [-38.69, 371.14], "nice": false, "zero": false}},
      "y": {"datum": -10, "type": "quantitative", "scale": {"domain": [-24.57, 56], "nice": false, "zero": false}}, "y2": {"datum": -11.3}}},
    {"data": {"name": "my"}, "mark": {"type": "rule", "color": "#000000", "strokeWidth": 1},
     "encoding": {"y": {"field": "m", "type": "quantitative", "scale": {"domain": [-24.57, 56], "nice": false, "zero": false}},
      "x": {"datum": 0, "type": "quantitative", "scale": {"domain": [-38.69, 371.14], "nice": false, "zero": false}}, "x2": {"datum": 1.1}}},
    {"data": {"name": "yl"}, "mark": {"type": "text"},
     "encoding": {"y": {"field": "q", "type": "quantitative", "scale": {"domain": [-24.57, 56], "nice": false, "zero": false}},
      "x": {"datum": 0, "type": "quantitative", "scale": {"domain": [-38.69, 371.14], "nice": false, "zero": false}}, "text": {"field": "q", "type": "quantitative"}}},
    {"data": {"name": "y"}, "transform": [{"fold": ["d", "e", "f"], "as": ["s", "v"]}], "mark": {"type": "line", "strokeWidth": 2},
     "encoding": {
      "x": {"field": "x", "type": "quantitative", "scale": {"domain": [-38.69, 371.14], "nice": false, "zero": false},
       "axis": {"title": null, "offset": -34, "labelOverlap": false, "values": [0,30,60,90,120,150,180,210,240,270,300,330,360], "labelExpr": "timeFormat(datetime(2019, 7, 1 + datum.value), '%-m/%-d')"}},
      "y": {"field": "v", "type": "quantitative", "scale": {"domain": [-24.57, 56], "nice": false, "zero": false},
       "axis": {"title": ["温度 ℃", "(-)←  →(+)"], "titleY": 91, "offset": -113, "labels": false, "values": [-10,0,10,20,30,40,50]}},
      "color": {"field": "s", "type": "nominal", "scale": {"domain": ["d", "e", "f"], "range": ["#0000ff", "#993366", "#008000"]},
       "legend": {"title": null, "legendX": 118, "legendY": 98, "symbolOffset": 27, "labelExpr": "(datum.label == 'd' ? 'T-2(1)' : datum.label == 'e' ? 'T-2(2)' : 'T-2(3)') + '\u00a0\u00a0\u00a0\u00a0\u00a0\u200b'"}}}}
   ]},
  {"width": 1197, "height": 188, "view": {"fill": "#ffff99", "stroke": "#a0a0a0"},
   "layer": [
    {"data": {"values": [{}]}, "mark": {"type": "rect", "fill": "#ffffff", "stroke": "#303030", "strokeWidth": 1},
     "encoding": {"x": {"datum": 0, "type": "quantitative", "scale": {"domain": [-38.4, 371.13], "nice": false, "zero": false}}, "x2": {"datum": 366},
      "y": {"datum": -10, "type": "quantitative", "scale": {"domain": [-24.57, 56], "nice": false, "zero": false}}, "y2": {"datum": 50}}},
    {"data": {"name": "vg"}, "mark": {"type": "rule", "color": "#8c8c8c", "strokeWidth": 1},
     "encoding": {"x": {"field": "g", "type": "quantitative", "scale": {"domain": [-38.4, 371.13], "nice": false, "zero": false}},
      "y": {"datum": -10, "type": "quantitative", "scale": {"domain": [-24.57, 56], "nice": false, "zero": false}}, "y2": {"datum": 50}}},
    {"data": {"name": "hg"}, "mark": {"type": "rule", "color": "#8c8c8c", "strokeWidth": 1},
     "encoding": {"y": {"field": "h", "type": "quantitative", "scale": {"domain": [-24.57, 56], "nice": false, "zero": false}},
      "x": {"datum": 0, "type": "quantitative", "scale": {"domain": [-38.4, 371.13], "nice": false, "zero": false}}, "x2": {"datum": 366}}},
    {"data": {"name": "mx"}, "mark": {"type": "rule", "color": "#000000", "strokeWidth": 1},
     "encoding": {"x": {"field": "t", "type": "quantitative", "scale": {"domain": [-38.4, 371.13], "nice": false, "zero": false}},
      "y": {"datum": -10, "type": "quantitative", "scale": {"domain": [-24.57, 56], "nice": false, "zero": false}}, "y2": {"datum": -11.3}}},
    {"data": {"name": "my"}, "mark": {"type": "rule", "color": "#000000", "strokeWidth": 1},
     "encoding": {"y": {"field": "m", "type": "quantitative", "scale": {"domain": [-24.57, 56], "nice": false, "zero": false}},
      "x": {"datum": 0, "type": "quantitative", "scale": {"domain": [-38.4, 371.13], "nice": false, "zero": false}}, "x2": {"datum": 1.1}}},
    {"data": {"name": "yl"}, "mark": {"type": "text"},
     "encoding": {"y": {"field": "q", "type": "quantitative", "scale": {"domain": [-24.57, 56], "nice": false, "zero": false}},
      "x": {"datum": 0, "type": "quantitative", "scale": {"domain": [-38.4, 371.13], "nice": false, "zero": false}}, "text": {"field": "q", "type": "quantitative"}}},
    {"data": {"name": "y"}, "transform": [{"fold": ["g", "h", "i"], "as": ["s", "v"]}], "mark": {"type": "line", "strokeWidth": 2},
     "encoding": {
      "x": {"field": "x", "type": "quantitative", "scale": {"domain": [-38.4, 371.13], "nice": false, "zero": false},
       "axis": {"title": null, "offset": -34, "labelOverlap": false, "values": [0,30,60,90,120,150,180,210,240,270,300,330,360], "labelExpr": "timeFormat(datetime(2019, 7, 1 + datum.value), '%-m/%-d')"}},
      "y": {"field": "v", "type": "quantitative", "scale": {"domain": [-24.57, 56], "nice": false, "zero": false},
       "axis": {"title": ["温度 ℃", "(-)←  →(+)"], "titleY": 93, "offset": -112, "labels": false, "values": [-10,0,10,20,30,40,50]}},
      "color": {"field": "s", "type": "nominal", "scale": {"domain": ["g", "h", "i"], "range": ["#0000ff", "#993366", "#008000"]},
       "legend": {"title": null, "legendX": 123, "legendY": 97, "symbolOffset": 24, "labelExpr": "(datum.label == 'g' ? 'T-3(1)' : datum.label == 'h' ? 'T-3(2)' : 'T-3(3)') + '\u00a0\u00a0\u00a0\u00a0\u200b'"}}}}
   ]}
 ]},
 {"spacing": 0, "bounds": "flush",
  "resolve": {"scale": {"color": "independent"}, "legend": {"color": "independent"}},
  "vconcat": [
  {"width": 1197, "height": 187, "view": {"fill": "#ccffcc", "stroke": "#a0a0a0"},
   "layer": [
    {"data": {"values": [{}]}, "mark": {"type": "rect", "fill": "#ffffff", "stroke": "#303030", "strokeWidth": 1},
     "encoding": {"x": {"datum": 0, "type": "quantitative", "scale": {"domain": [-38.31, 371.13], "nice": false, "zero": false}}, "x2": {"datum": 366},
      "y": {"datum": -10, "type": "quantitative", "scale": {"domain": [-24.14, 56], "nice": false, "zero": false}}, "y2": {"datum": 50}}},
    {"data": {"name": "vg"}, "mark": {"type": "rule", "color": "#8c8c8c", "strokeWidth": 1},
     "encoding": {"x": {"field": "g", "type": "quantitative", "scale": {"domain": [-38.31, 371.13], "nice": false, "zero": false}},
      "y": {"datum": -10, "type": "quantitative", "scale": {"domain": [-24.14, 56], "nice": false, "zero": false}}, "y2": {"datum": 50}}},
    {"data": {"name": "hg"}, "mark": {"type": "rule", "color": "#8c8c8c", "strokeWidth": 1},
     "encoding": {"y": {"field": "h", "type": "quantitative", "scale": {"domain": [-24.14, 56], "nice": false, "zero": false}},
      "x": {"datum": 0, "type": "quantitative", "scale": {"domain": [-38.31, 371.13], "nice": false, "zero": false}}, "x2": {"datum": 366}}},
    {"data": {"name": "mx"}, "mark": {"type": "rule", "color": "#000000", "strokeWidth": 1},
     "encoding": {"x": {"field": "t", "type": "quantitative", "scale": {"domain": [-38.31, 371.13], "nice": false, "zero": false}},
      "y": {"datum": -10, "type": "quantitative", "scale": {"domain": [-24.14, 56], "nice": false, "zero": false}}, "y2": {"datum": -11.3}}},
    {"data": {"name": "my"}, "mark": {"type": "rule", "color": "#000000", "strokeWidth": 1},
     "encoding": {"y": {"field": "m", "type": "quantitative", "scale": {"domain": [-24.14, 56], "nice": false, "zero": false}},
      "x": {"datum": 0, "type": "quantitative", "scale": {"domain": [-38.31, 371.13], "nice": false, "zero": false}}, "x2": {"datum": 1.1}}},
    {"data": {"name": "yl"}, "mark": {"type": "text"},
     "encoding": {"y": {"field": "q", "type": "quantitative", "scale": {"domain": [-24.14, 56], "nice": false, "zero": false}},
      "x": {"datum": 0, "type": "quantitative", "scale": {"domain": [-38.31, 371.13], "nice": false, "zero": false}}, "text": {"field": "q", "type": "quantitative"}}},
    {"data": {"name": "g"}, "transform": [{"fold": ["j", "k", "l"], "as": ["s", "v"]}], "mark": {"type": "line", "strokeWidth": 2},
     "encoding": {
      "x": {"field": "x", "type": "quantitative", "scale": {"domain": [-38.31, 371.13], "nice": false, "zero": false},
       "axis": {"title": null, "offset": -33, "labelOverlap": false, "values": [0,30,60,90,120,150,180,210,240,270,300,330,360], "labelExpr": "timeFormat(datetime(2019, 7, 1 + datum.value), '%-m/%-d')"}},
      "y": {"field": "v", "type": "quantitative", "scale": {"domain": [-24.14, 56], "nice": false, "zero": false},
       "axis": {"title": ["温度 ℃", "(-)←  →(+)"], "titleY": 89, "offset": -112, "labels": false, "values": [-10,0,10,20,30,40,50]}},
      "color": {"field": "s", "type": "nominal", "scale": {"domain": ["j", "k", "l"], "range": ["#0000ff", "#993366", "#008000"]},
       "legend": {"title": null, "legendX": 120, "legendY": 91, "symbolOffset": 27, "rowPadding": 5, "labelExpr": "(datum.label == 'j' ? 'T-4(1)' : datum.label == 'k' ? 'T-4(2)' : 'T-4(3)') + '\u00a0\u00a0\u00a0\u00a0\u00a0\u200b'"}}}}
   ]},
  {"width": 1197, "height": 182, "view": {"fill": "#ccffcc", "stroke": "#a0a0a0"},
   "layer": [
    {"data": {"values": [{}]}, "mark": {"type": "rect", "fill": "#ffffff", "stroke": "#303030", "strokeWidth": 1},
     "encoding": {"x": {"datum": 0, "type": "quantitative", "scale": {"domain": [-41.36, 371.17], "nice": false, "zero": false}}, "x2": {"datum": 366},
      "y": {"datum": -10, "type": "quantitative", "scale": {"domain": [-22, 56], "nice": false, "zero": false}}, "y2": {"datum": 50}}},
    {"data": {"name": "vg"}, "mark": {"type": "rule", "color": "#8c8c8c", "strokeWidth": 1},
     "encoding": {"x": {"field": "g", "type": "quantitative", "scale": {"domain": [-41.36, 371.17], "nice": false, "zero": false}},
      "y": {"datum": -10, "type": "quantitative", "scale": {"domain": [-22, 56], "nice": false, "zero": false}}, "y2": {"datum": 50}}},
    {"data": {"name": "hg"}, "mark": {"type": "rule", "color": "#8c8c8c", "strokeWidth": 1},
     "encoding": {"y": {"field": "h", "type": "quantitative", "scale": {"domain": [-22, 56], "nice": false, "zero": false}},
      "x": {"datum": 0, "type": "quantitative", "scale": {"domain": [-41.36, 371.17], "nice": false, "zero": false}}, "x2": {"datum": 366}}},
    {"data": {"name": "mx"}, "mark": {"type": "rule", "color": "#000000", "strokeWidth": 1},
     "encoding": {"x": {"field": "t", "type": "quantitative", "scale": {"domain": [-41.36, 371.17], "nice": false, "zero": false}},
      "y": {"datum": -10, "type": "quantitative", "scale": {"domain": [-22, 56], "nice": false, "zero": false}}, "y2": {"datum": -11.3}}},
    {"data": {"name": "my"}, "mark": {"type": "rule", "color": "#000000", "strokeWidth": 1},
     "encoding": {"y": {"field": "m", "type": "quantitative", "scale": {"domain": [-22, 56], "nice": false, "zero": false}},
      "x": {"datum": 0, "type": "quantitative", "scale": {"domain": [-41.36, 371.17], "nice": false, "zero": false}}, "x2": {"datum": 1.1}}},
    {"data": {"name": "yl"}, "mark": {"type": "text"},
     "encoding": {"y": {"field": "q", "type": "quantitative", "scale": {"domain": [-22, 56], "nice": false, "zero": false}},
      "x": {"datum": 0, "type": "quantitative", "scale": {"domain": [-41.36, 371.17], "nice": false, "zero": false}}, "text": {"field": "q", "type": "quantitative"}}},
    {"data": {"name": "g"}, "transform": [{"fold": ["m", "n", "o"], "as": ["s", "v"]}], "mark": {"type": "line", "strokeWidth": 2},
     "encoding": {
      "x": {"field": "x", "type": "quantitative", "scale": {"domain": [-41.36, 371.17], "nice": false, "zero": false},
       "axis": {"title": null, "offset": -28, "labelOverlap": false, "values": [0,30,60,90,120,150,180,210,240,270,300,330,360], "labelExpr": "timeFormat(datetime(2019, 7, 1 + datum.value), '%-m/%-d')"}},
      "y": {"field": "v", "type": "quantitative", "scale": {"domain": [-22, 56], "nice": false, "zero": false},
       "axis": {"title": ["温度 ℃", "(-)←  →(+)"], "titleY": 82, "offset": -120, "labels": false, "values": [-10,0,10,20,30,40,50]}},
      "color": {"field": "s", "type": "nominal", "scale": {"domain": ["m", "n", "o"], "range": ["#0000ff", "#993366", "#008000"]},
       "legend": {"title": null, "legendX": 134, "legendY": 91, "symbolOffset": 27, "rowPadding": 3, "labelExpr": "(datum.label == 'm' ? 'T-5(1)' : datum.label == 'n' ? 'T-5(2)' : 'T-5(3)') + '\u00a0\u00a0\u00a0\u00a0\u00a0\u200b'"}}}}
   ]}
 ]}
]
}
